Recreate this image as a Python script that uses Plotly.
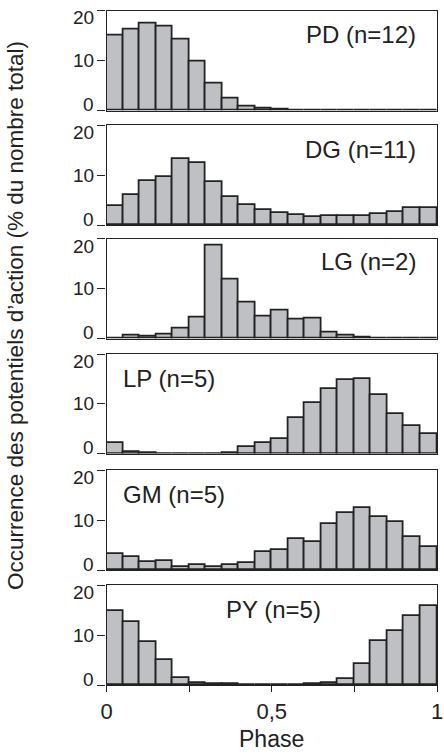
import plotly.graph_objects as go

# Phase bins (centres of 20 bins of width 0.05 over one cycle)
phase_bins = [0.025, 0.075, 0.125, 0.175, 0.225, 0.275, 0.325, 0.375, 0.425, 0.475,
              0.525, 0.575, 0.625, 0.675, 0.725, 0.775, 0.825, 0.875, 0.925, 0.975]

# Occurrence of action potentials (% of total) per phase bin
pd_vals = [15.0, 16.2, 17.5, 16.8, 14.3, 9.9, 5.5, 2.4, 0.8, 0.35,
           0.12, 0.08, 0.02, 0.08, 0.0, 0.0, 0.0, 0.0, 0.0, 0.0]
dg_vals = [3.9, 6.1, 8.9, 9.7, 13.3, 12.5, 8.7, 5.7, 4.1, 3.1,
           2.4, 2.1, 1.7, 1.9, 1.9, 1.8, 2.3, 2.7, 3.4, 3.5]
lg_vals = [0.08, 0.7, 0.5, 0.9, 2.1, 4.3, 18.6, 11.9, 7.2, 4.4,
           5.6, 3.8, 4.1, 1.3, 0.7, 0.3, 0.1, 0.05, 0.05, 0.0]
lp_vals = [2.2, 0.4, 0.05, 0.0, 0.0, 0.0, 0.0, 0.05, 1.35, 2.1,
           3.0, 7.1, 10.2, 13.0, 14.8, 14.9, 11.8, 8.0, 5.5, 3.9]
gm_vals = [3.2, 2.7, 1.7, 1.9, 0.7, 1.0, 0.6, 1.1, 1.5, 3.6,
           4.1, 6.2, 5.7, 9.3, 11.5, 12.5, 10.7, 9.6, 6.7, 4.7]
py_vals = [14.8, 12.6, 8.7, 5.1, 1.5, 0.4, 0.15, 0.15, 0.1, 0.05,
           0.1, 0.1, 0.2, 0.4, 1.3, 4.3, 8.8, 10.9, 13.9, 15.9]

panel_names = ["PD (n=12)", "DG (n=11)", "LG (n=2)", "LP (n=5)", "GM (n=5)", "PY (n=5)"]
panel_series = [pd_vals, dg_vals, lg_vals, lp_vals, gm_vals, py_vals]

y_ticks = [0, 10, 20]
y_tick_text = ["0", "10", "20"]
x_ticks = [0, 0.25, 0.5, 0.75, 1]
x_tick_text = ["0", "", "0,5", "", "1"]

W, H = 444, 756
FONT = "Liberation Sans, Arial, sans-serif"
INK = "#222222"
FILL = "#bfc0c4"

# Pixel geometry of the stacked panels
x_left, x_right = 106.5, 437.0
panel_px = [(10.5, 110.5), (125, 225), (238.5, 338.5), (354, 453.5), (470, 570), (585, 685)]
# Panel name anchor (x pixel, y pixel, anchor)
label_pos = [(418, 34, "right"), (418, 149, "right"), (418, 262, "right"),
             (121, 378, "left"), (121, 494, "left"), (273, 609, "center")]
# Tick labels are nudged inside each panel span: the top one hangs below its tick,
# the bottom one sits just above it
y_label_shift = {0: 6, 10: 0, 20: -7.5}

fig = go.Figure()
layout = dict(
    template="none",
    width=W, height=H,
    margin=dict(l=0, r=0, t=0, b=0, autoexpand=False),
    paper_bgcolor="white", plot_bgcolor="white",
    showlegend=False, bargap=0,
    font=dict(family=FONT, color=INK),
)
annotations = []

for i, (name, vals) in enumerate(zip(panel_names, panel_series)):
    k = "" if i == 0 else str(i + 1)
    fig.add_trace(go.Bar(
        x=phase_bins, y=vals, width=0.05,
        marker=dict(color=FILL, line=dict(color=INK, width=1.8)),
        xaxis="x" + k, yaxis="y" + k, hoverinfo="skip",
    ))
    top, bot = panel_px[i]
    last = i == len(panel_names) - 1
    layout["xaxis" + k] = dict(
        domain=[x_left / W, x_right / W], range=[0, 1],
        anchor="y" + k, automargin=False,
        showline=True, mirror=True, linecolor=INK, linewidth=1.3,
        showgrid=False, zeroline=False,
        tickmode="array", tickvals=x_ticks,
        ticktext=x_tick_text if last else [""] * len(x_ticks),
        ticks="outside" if last else "", ticklen=6, tickwidth=1.3, tickcolor=INK,
        tickfont=dict(size=22, family=FONT, color=INK),
        showticklabels=last,
    )
    layout["yaxis" + k] = dict(
        domain=[1 - bot / H, 1 - top / H], range=[0, 20],
        anchor="x" + k, automargin=False,
        showline=True, mirror=True, linecolor=INK, linewidth=1.3,
        showgrid=False, zeroline=False,
        tickmode="array", tickvals=y_ticks,
        ticks="outside", ticklen=8, tickwidth=1.3, tickcolor=INK,
        showticklabels=False,
    )
    for tv, tt in zip(y_ticks, y_tick_text):
        annotations.append(dict(
            text=tt, xref="paper", yref="y" + k,
            x=95 / W, y=tv, xanchor="right", yanchor="middle",
            yshift=y_label_shift[tv],
            showarrow=False, font=dict(size=19, family=FONT, color=INK),
            borderpad=0,
        ))
    lx, ly, anc = label_pos[i]
    annotations.append(dict(
        text=name, xref="paper", yref="paper",
        x=lx / W, y=1 - ly / H, xanchor=anc, yanchor="middle",
        showarrow=False, font=dict(size=24, family=FONT, color=INK),
    ))

annotations.append(dict(
    text="Phase", xref="paper", yref="paper",
    x=(x_left + x_right) / 2 / W, y=1 - 739 / H, xanchor="center", yanchor="middle",
    showarrow=False, font=dict(size=23, family=FONT, color=INK),
))
annotations.append(dict(
    text="Occurrence des potentiels d\u2019action (% du nombre total)",
    xref="paper", yref="paper",
    x=16 / W, y=1 - 316 / H, xanchor="center", yanchor="middle", textangle=-90,
    showarrow=False, font=dict(size=22.5, family=FONT, color=INK),
))
layout["annotations"] = annotations
fig.update_layout(**layout)

fig.write_html("out.html")
